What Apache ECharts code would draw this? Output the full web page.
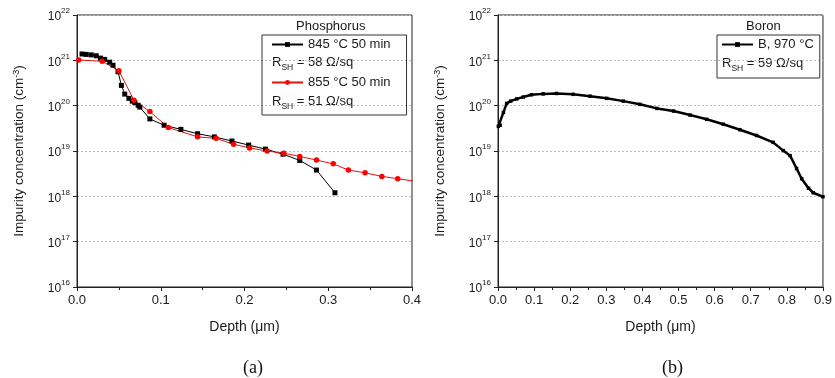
<!DOCTYPE html>
<html><head><meta charset="utf-8">
<script src="https://cdn.jsdelivr.net/npm/echarts@6/dist/echarts.min.js"></script>
<style>html,body{margin:0;padding:0;background:#fff}#c{width:835px;height:378px}</style>
</head><body><div id="c"></div>
<script>
// ---- Data ----
const xTicksA = [0.0, 0.1, 0.2, 0.3, 0.4];
const xTicksB = [0.0, 0.1, 0.2, 0.3, 0.4, 0.5, 0.6, 0.7, 0.8, 0.9];
const yExponents = [16, 17, 18, 19, 20, 21, 22];

const nameP845 = '845 °C 50 min';
const depthP845 = [0.006,0.011,0.017,0.023,0.028,0.033,0.039,0.043,0.049,0.053,0.057,0.062,0.066,0.069,0.073,0.075,0.087,0.104,0.124,0.144,0.164,0.185,0.205,0.225,0.246,0.266,0.286,0.308];
const concP845 = [1.38e21,1.35e21,1.32e21,1.26e21,1.12e21,1.05e21,9.1e20,7.8e20,5.6e20,2.8e20,1.8e20,1.45e20,1.26e20,1.17e20,1.02e20,9.3e19,5.1e19,3.7e19,3.0e19,2.4e19,2.05e19,1.66e19,1.35e19,1.1e19,8.5e18,6.2e18,3.8e18,1.2e18];

const nameP855 = '855 °C 50 min';
const depthP855 = [0.002,0.030,0.050,0.068,0.087,0.109,0.144,0.166,0.187,0.206,0.227,0.247,0.266,0.286,0.306,0.324,0.344,0.364,0.383,0.403];
const concP855 = [1.02e21,9.5e20,5.9e20,1.32e20,7.4e19,3.3e19,2.05e19,1.9e19,1.41e19,1.17e19,1.0e19,8.9e18,7.6e18,6.3e18,5.2e18,3.8e18,3.3e18,2.75e18,2.45e18,2.15e18];

const nameB = 'B, 970 °C';
const depthB = [0.001,0.006,0.015,0.024,0.035,0.052,0.070,0.093,0.125,0.162,0.208,0.255,0.301,0.347,0.393,0.440,0.486,0.532,0.578,0.624,0.670,0.716,0.762,0.790,0.809,0.827,0.841,0.860,0.873,0.900];
const concB = [3.5e19,3.7e19,7.1e19,1.12e20,1.26e20,1.41e20,1.55e20,1.74e20,1.82e20,1.86e20,1.78e20,1.62e20,1.45e20,1.26e20,1.07e20,8.7e19,7.6e19,6.2e19,5.0e19,3.9e19,2.95e19,2.2e19,1.55e19,1.02e19,7.9e18,4.1e18,2.45e18,1.51e18,1.2e18,9.8e17];

const rshP845 = '58';
const rshP855 = '51';
const rshB = '59';

// ---- Chart ----
const FONT = '"Liberation Sans", Arial, sans-serif';
const SERIF = '"Liberation Serif", "Times New Roman", serif';
const TXT = '#1a1a1a';
const AX = '#222';
function pairs(x, y) { return x.map((v, i) => [v, y[i]]); }

function xAxis(gi, ticks) {
  return {
    type: 'value', gridIndex: gi, min: ticks[0], max: ticks[ticks.length - 1], interval: 0.1,
    name: 'Depth (μm)', nameLocation: 'middle', nameGap: 33,
    nameTextStyle: { fontFamily: FONT, fontSize: 14, color: TXT },
    axisLine: { lineStyle: { color: AX, width: 1 } },
    axisTick: { length: 4, lineStyle: { color: AX } },
    minorTick: { show: true, splitNumber: 2, length: 3, lineStyle: { color: AX } },
    axisLabel: { fontFamily: FONT, fontSize: 13, color: TXT, margin: 7, formatter: v => v.toFixed(1) },
    splitLine: { show: false }
  };
}
function yAxis(gi) {
  return {
    type: 'log', gridIndex: gi, logBase: 10,
    min: Math.pow(10, yExponents[0]), max: Math.pow(10, yExponents[yExponents.length - 1]), interval: 1,
    name: 'Impurity concentration (cm{sup|-3})', nameLocation: 'middle', nameGap: 51, nameRotate: 90,
    nameTextStyle: { fontFamily: FONT, fontSize: 13.5, color: TXT,
      rich: { sup: { fontFamily: FONT, fontSize: 9, verticalAlign: 'top', color: TXT } } },
    axisLine: { lineStyle: { color: AX, width: 1 } },
    axisTick: { length: 4, lineStyle: { color: AX } },
    axisLabel: {
      margin: 7, color: TXT,
      formatter: v => '{b|10}{s|' + Math.round(Math.log10(v)) + '}',
      rich: {
        b: { fontFamily: FONT, fontSize: 12, color: TXT, lineHeight: 16, verticalAlign: 'bottom' },
        s: { fontFamily: FONT, fontSize: 8, color: TXT, verticalAlign: 'top' }
      }
    },
    splitLine: { show: true, lineStyle: { color: '#bdbdbd', type: [2, 2], width: 1 } }
  };
}
function rshText(x, y, val) {
  return {
    type: 'text', left: x, top: y,
    style: {
      text: '{r|R}{sub|SH}{r| = ' + val + ' Ω/sq}',
      rich: {
        r: { fontFamily: FONT, fontSize: 13, fill: TXT, lineHeight: 15, verticalAlign: 'top' },
        sub: { fontFamily: FONT, fontSize: 8.5, fill: TXT, lineHeight: 9, padding: [7, 0, 0, 0], verticalAlign: 'top' }
      }
    }
  };
}

const legendCommon = {
  orient: 'vertical', selectedMode: false, borderColor: '#333', borderWidth: 1,
  itemHeight: 6, textStyle: { fontFamily: FONT, fontSize: 13, color: TXT }
};

const option = {
  backgroundColor: '#fff',
  animation: false,
  grid: [
    { left: 77, top: 15, width: 335, height: 272, show: true, borderColor: AX, borderWidth: 1, backgroundColor: 'transparent' },
    { left: 498, top: 15, width: 326, height: 272, show: true, borderColor: AX, borderWidth: 1, backgroundColor: 'transparent' }
  ],
  xAxis: [xAxis(0, xTicksA), xAxis(1, xTicksB)],
  yAxis: [yAxis(0), yAxis(1)],
  legend: [
    Object.assign({}, legendCommon, { data: [nameP845, nameP855], left: 262, top: 35, padding: [3, 16, 26, 9], itemGap: 25, itemWidth: 31 }),
    Object.assign({}, legendCommon, { data: [nameB], left: 717, top: 35, padding: [3, 6, 27, 4], itemWidth: 31 })
  ],
  series: [
    { name: nameP845, type: 'line', xAxisIndex: 0, yAxisIndex: 0, data: pairs(depthP845, concP845),
      symbol: 'rect', symbolSize: 5, lineStyle: { color: '#000', width: 1 }, itemStyle: { color: '#000' } },
    { name: nameP855, type: 'line', xAxisIndex: 0, yAxisIndex: 0, data: pairs(depthP855, concP855),
      symbol: 'circle', symbolSize: 5.5, lineStyle: { color: '#e01010', width: 1 }, itemStyle: { color: '#ff0000' } },
    { name: nameB, type: 'line', xAxisIndex: 1, yAxisIndex: 1, data: pairs(depthB, concB),
      symbol: 'rect', symbolSize: 3.5, lineStyle: { color: '#000', width: 2.5 }, itemStyle: { color: '#000' } }
  ],
  graphic: [
    { type: 'text', left: 296, top: 20, style: { text: 'Phosphorus', fontFamily: FONT, fontSize: 13, fill: TXT } },
    { type: 'text', left: 746, top: 20, style: { text: 'Boron', fontFamily: FONT, fontSize: 13, fill: TXT } },
    rshText(272, 56, rshP845),
    rshText(272, 95, rshP855),
    rshText(722, 57, rshB),
    { type: 'text', left: 243, top: 359, style: { text: '(a)', fontFamily: SERIF, fontSize: 18, fill: '#111' } },
    { type: 'text', left: 662, top: 359, style: { text: '(b)', fontFamily: SERIF, fontSize: 18, fill: '#111' } }
  ]
};
const chart = echarts.init(document.getElementById('c'));
chart.setOption(option);
</script>
</body></html>
